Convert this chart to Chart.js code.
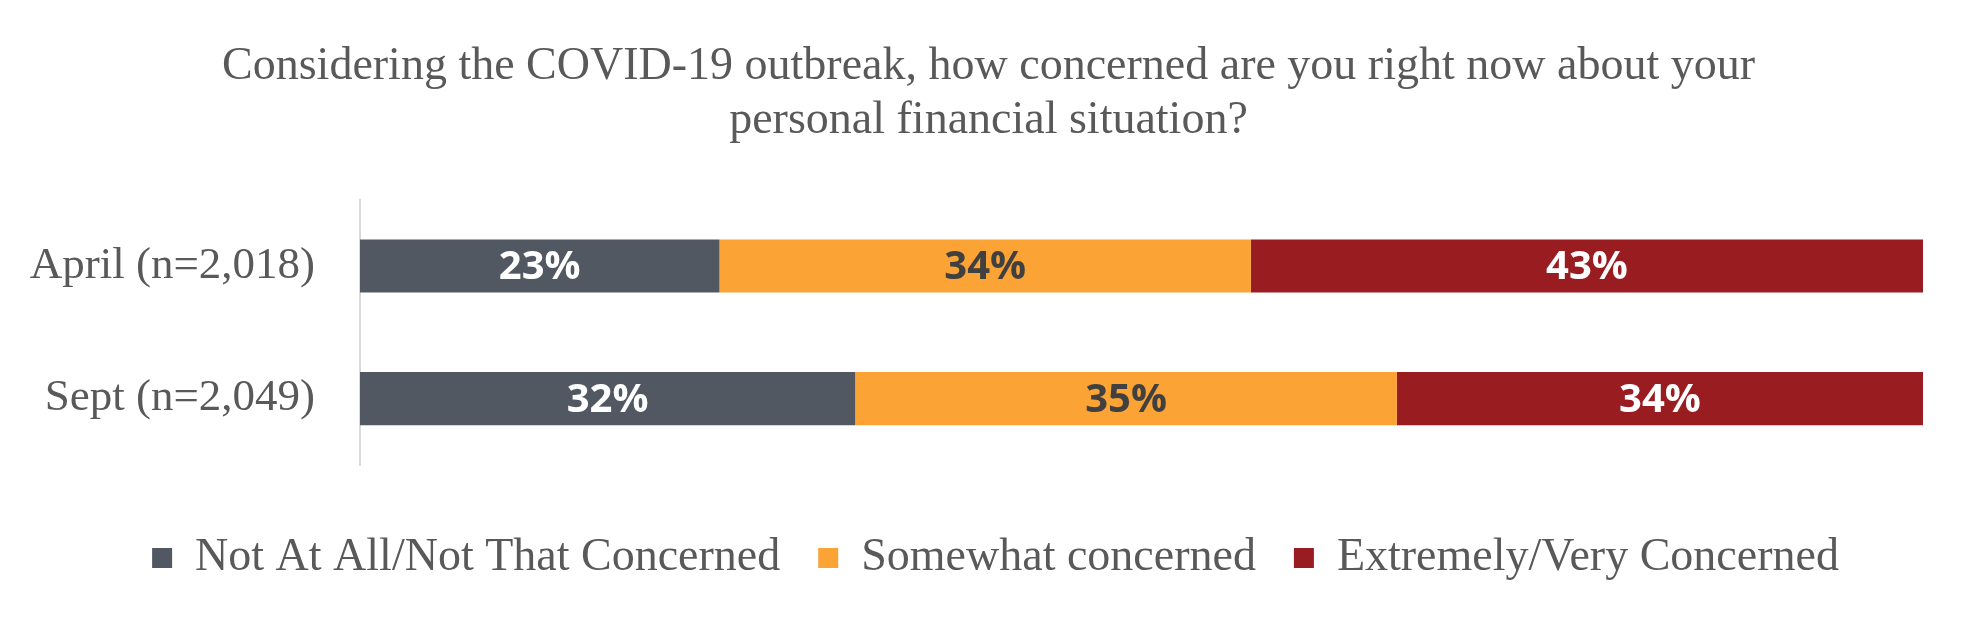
<!DOCTYPE html>
<html>
<head>
<meta charset="utf-8">
<script src="https://cdn.jsdelivr.net/npm/chart.js@4"></script>
<style>
  html, body { margin: 0; padding: 0; background: #fff; }
  #wrap { width: 1975px; height: 622px; }
</style>
</head>
<body>
<div id="wrap"><canvas id="chart"></canvas></div>
<script>
// data
const categories = ['April (n=2,018)', 'Sept (n=2,049)']
const notConcerned = [23, 32]
const somewhatConcerned = [34, 35]
const veryConcerned = [43, 34]
const seriesNames = ['Not At All/Not That Concerned', 'Somewhat concerned', 'Extremely/Very Concerned']
const titleLines = ['Considering the COVID-19 outbreak, how concerned are you right now about your', 'personal financial situation?']

const colors = ['#525861', '#FBA334', '#991C20']
const labelColors = ['#ffffff', '#404040', '#ffffff']
const serif = '"Liberation Serif", "Times New Roman", serif'

// 100% stacked: each row is scaled to its own total
const raw = [notConcerned, somewhatConcerned, veryConcerned]
const rowTotals = categories.map((c, i) => raw.reduce((s, arr) => s + arr[i], 0))

const datasets = raw.map((vals, k) => ({
  label: seriesNames[k],
  data: vals.map((v, i) => v / rowTotals[i] * 100),
  shown: vals,
  backgroundColor: colors[k],
  borderWidth: 0,
  barPercentage: 0.4,
  categoryPercentage: 1,
}))

// little inline plugin for the percent labels inside the bars
const barLabels = {
  id: 'barLabels',
  afterDatasetsDraw(chart) {
    const ctx = chart.ctx
    ctx.save()
    ctx.font = 'bold 40px "Open Sans", sans-serif'
    ctx.textAlign = 'center'
    ctx.textBaseline = 'middle'
    chart.data.datasets.forEach((ds, k) => {
      const meta = chart.getDatasetMeta(k)
      meta.data.forEach((bar, i) => {
        const p = bar.getProps(['x', 'y', 'base'], true)
        ctx.fillStyle = labelColors[k]
        ctx.fillText(ds.shown[i] + '%', (p.x + p.base) / 2, p.y + 2)
      })
    })
    ctx.restore()
  },
}

// title and legend sit centred on the whole page, not just the plot box
const recentre = {
  id: 'recentre',
  afterLayout(chart) {
    const t = chart.titleBlock
    t.left += 27
    t.right += 27
    const l = chart.legend
    l.left += 34
    l.right += 34
  },
}

new Chart(document.getElementById('chart'), {
  type: 'bar',
  data: { labels: categories, datasets: datasets },
  options: {
    indexAxis: 'y',
    responsive: true,
    maintainAspectRatio: false,
    animation: false,
    layout: { padding: { left: 0, right: 52, top: 0, bottom: 31 } },
    scales: {
      x: {
        stacked: true,
        min: 0,
        max: 100,
        ticks: { display: false },
        grid: { display: false, drawTicks: false },
        border: { display: false },
        afterFit: (s) => { s.height = 32 },
      },
      y: {
        stacked: true,
        ticks: {
          color: '#595959',
          font: { family: serif, size: 45 },
          padding: 45,
        },
        grid: { display: false, drawTicks: false },
        border: { display: true, color: '#d9d9d9', width: 2 },
        afterFit: (s) => { s.width = 360 },
      },
    },
    plugins: {
      title: {
        display: true,
        text: titleLines,
        color: '#595959',
        font: { family: serif, size: 46, weight: 'normal', lineHeight: 1.18 },
        padding: { top: 40, bottom: 51 },
      },
      legend: {
        position: 'bottom',
        labels: {
          color: '#595959',
          font: { family: serif, size: 46 },
          boxWidth: 20,
          boxHeight: 20,
          padding: 38,
        },
      },
      tooltip: { enabled: false },
    },
  },
  plugins: [barLabels, recentre],
})
</script>
</body>
</html>
